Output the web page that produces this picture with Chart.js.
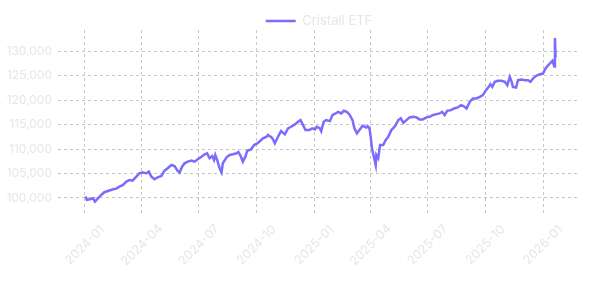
<!DOCTYPE html>
<html><head><meta charset="utf-8">
<script src="https://cdn.jsdelivr.net/npm/chart.js@4.4.1/dist/chart.umd.min.js"></script>
<style>html,body{margin:0;padding:0;background:#fff;overflow:hidden;}</style>
</head><body>
<canvas id="c" width="590" height="282"></canvas>
<script>
const seriesName = 'Cristall ETF';
const dates = ['2024-01-02','2024-01-04','2024-01-09','2024-01-14','2024-01-17','2024-01-22','2024-01-27','2024-02-01','2024-02-09','2024-02-15','2024-02-20','2024-02-25','2024-03-02','2024-03-07','2024-03-12','2024-03-17','2024-03-23','2024-03-28','2024-04-02','2024-04-08','2024-04-12','2024-04-16','2024-04-21','2024-04-26','2024-05-02','2024-05-07','2024-05-12','2024-05-18','2024-05-23','2024-05-28','2024-05-31','2024-06-04','2024-06-08','2024-06-13','2024-06-19','2024-06-24','2024-06-29','2024-07-05','2024-07-10','2024-07-14','2024-07-18','2024-07-22','2024-07-25','2024-07-27','2024-07-30','2024-08-03','2024-08-06','2024-08-08','2024-08-14','2024-08-19','2024-08-24','2024-08-30','2024-09-02','2024-09-06','2024-09-09','2024-09-13','2024-09-16','2024-09-22','2024-09-27','2024-10-02','2024-10-07','2024-10-11','2024-10-17','2024-10-19','2024-10-25','2024-10-27','2024-10-30','2024-11-04','2024-11-09','2024-11-15','2024-11-20','2024-11-25','2024-12-01','2024-12-06','2024-12-10','2024-12-14','2024-12-18','2024-12-24','2024-12-29','2025-01-02','2025-01-05','2025-01-10','2025-01-12','2025-01-16','2025-01-20','2025-01-26','2025-01-30','2025-02-04','2025-02-08','2025-02-13','2025-02-17','2025-02-22','2025-02-26','2025-03-03','2025-03-06','2025-03-10','2025-03-14','2025-03-19','2025-03-25','2025-03-27','2025-03-30','2025-04-01','2025-04-03','2025-04-06','2025-04-09','2025-04-10','2025-04-13','2025-04-16','2025-04-21','2025-04-25','2025-04-29','2025-05-04','2025-05-10','2025-05-15','2025-05-19','2025-05-23','2025-05-28','2025-06-02','2025-06-08','2025-06-13','2025-06-18','2025-06-23','2025-06-29','2025-07-04','2025-07-09','2025-07-15','2025-07-20','2025-07-24','2025-07-28','2025-08-01','2025-08-07','2025-08-12','2025-08-18','2025-08-23','2025-08-27','2025-09-01','2025-09-06','2025-09-11','2025-09-17','2025-09-22','2025-09-27','2025-10-02','2025-10-07','2025-10-09','2025-10-12','2025-10-16','2025-10-21','2025-10-27','2025-11-01','2025-11-05','2025-11-09','2025-11-12','2025-11-14','2025-11-19','2025-11-22','2025-11-28','2025-12-03','2025-12-08','2025-12-12','2025-12-16','2025-12-20','2025-12-27','2026-01-01','2026-01-05','2026-01-09','2026-01-13','2026-01-16','2026-01-19','2026-01-20','2026-01-21'];
const values = [100300,99600,99730,99930,99250,99930,100600,101160,101500,101770,101900,102300,102650,103330,103670,103530,104350,105040,105170,105040,105370,104350,103810,104220,104490,105570,106060,106730,106500,105500,105170,106390,107080,107420,107620,107420,107900,108430,108920,109120,108100,108570,107760,108780,107760,106000,105200,107080,108300,108780,108920,109120,109390,108430,107420,108430,109650,109930,110810,111160,111690,112180,112510,112860,112390,112000,111160,112510,113670,113000,114220,114550,115040,115570,115920,114900,113880,113880,114220,114020,114550,114220,113670,115570,115920,115710,116940,117280,117610,117280,117820,117610,117080,115920,114220,113200,113880,114750,114400,114690,114220,112510,110140,108430,106730,108780,108100,110810,110810,111840,112510,113880,114690,115920,116270,115370,115920,116470,116590,116470,116060,116060,116470,116590,116940,117140,117280,117610,116940,117820,117960,118300,118510,118980,118800,118300,119650,120350,120350,120680,121020,122040,122860,123270,122710,123740,123950,123950,123740,123060,124760,123740,122710,122590,124080,124220,124080,124080,123740,124420,124900,125310,125440,126470,127140,127610,128020,126900,132700,128700];
const tickLabels = ['2024-01','2024-04','2024-07','2024-10','2025-01','2025-04','2025-07','2025-10','2026-01'];
const yTicks = [100000,105000,110000,115000,120000,125000,130000];

const toTime = s => Date.parse((s.length === 7 ? s + '-01' : s) + 'T00:00:00Z');
const n = Math.min(dates.length, values.length);
const points = [];
for (let i = 0; i < n; i++) points.push({x: toTime(dates[i]), y: values[i]});
const tickTimes = tickLabels.map(toTime);

const FONT = 'Inter, "Noto Sans", sans-serif';
const LIGHT = '#e6e6e6';
const GRID = 'rgba(0,0,0,0.22)';
const LINE = '#7b6cfc';

const legendFit = {
  id: 'legendFit',
  afterInit(chart) {
    const lg = chart.legend;
    if (!lg) return;
    const orig = lg.fit.bind(lg);
    lg.fit = function () { orig(); this.height = 25.5; };
  }
};
const xLabels = {
  id: 'xLabels',
  afterDraw(chart) {
    const sc = chart.scales.x, ctx = chart.ctx;
    ctx.save();
    ctx.font = '12.5px ' + FONT;
    ctx.fillStyle = LIGHT;
    ctx.textAlign = 'center';
    ctx.textBaseline = 'middle';
    tickTimes.forEach((t, i) => {
      ctx.save();
      ctx.translate(sc.getPixelForValue(t), chart.chartArea.bottom + 30);
      ctx.rotate(-Math.PI / 4);
      ctx.fillText(tickLabels[i], 0, 0);
      ctx.restore();
    });
    ctx.restore();
  }
};

new Chart(document.getElementById('c'), {
  type: 'line',
  data: { datasets: [{ label: seriesName, data: points, borderColor: LINE, backgroundColor: LINE, borderWidth: 2.5, pointRadius: 0, tension: 0, fill: false }] },
  options: {
    responsive: false, animation: false, devicePixelRatio: 1,
    layout: { padding: { top: 4.5, right: 10, bottom: 0, left: 0 } },
    plugins: {
      tooltip: { enabled: false },
      legend: {
        position: 'top', fullSize: false,
        labels: { usePointStyle: true, pointStyle: 'line', pointStyleWidth: 30, color: LIGHT, padding: 10, font: { family: FONT, size: 13 } }
      }
    },
    scales: {
      x: {
        type: 'linear', min: toTime('2023-11-19'), max: toTime('2026-03-01'),
        afterBuildTicks: sc => { sc.ticks = tickTimes.map(v => ({ value: v })); },
        afterFit: sc => { sc.height = 67; },
        ticks: { display: false },
        grid: { color: GRID, lineWidth: 1, drawTicks: false },
        border: { display: false, dash: [3, 3] }
      },
      y: {
        type: 'linear', min: 96500, max: 134350,
        afterBuildTicks: sc => { sc.ticks = yTicks.map(v => ({ value: v })); },
        afterFit: sc => { sc.width = 58; },
        ticks: { color: LIGHT, padding: 6, font: { family: FONT, size: 12 }, callback: v => Number(v).toLocaleString('en-US') },
        grid: { color: GRID, lineWidth: 1, drawTicks: false },
        border: { display: false, dash: [3, 3] }
      }
    }
  },
  plugins: [legendFit, xLabels]
});
</script>
</body></html>
